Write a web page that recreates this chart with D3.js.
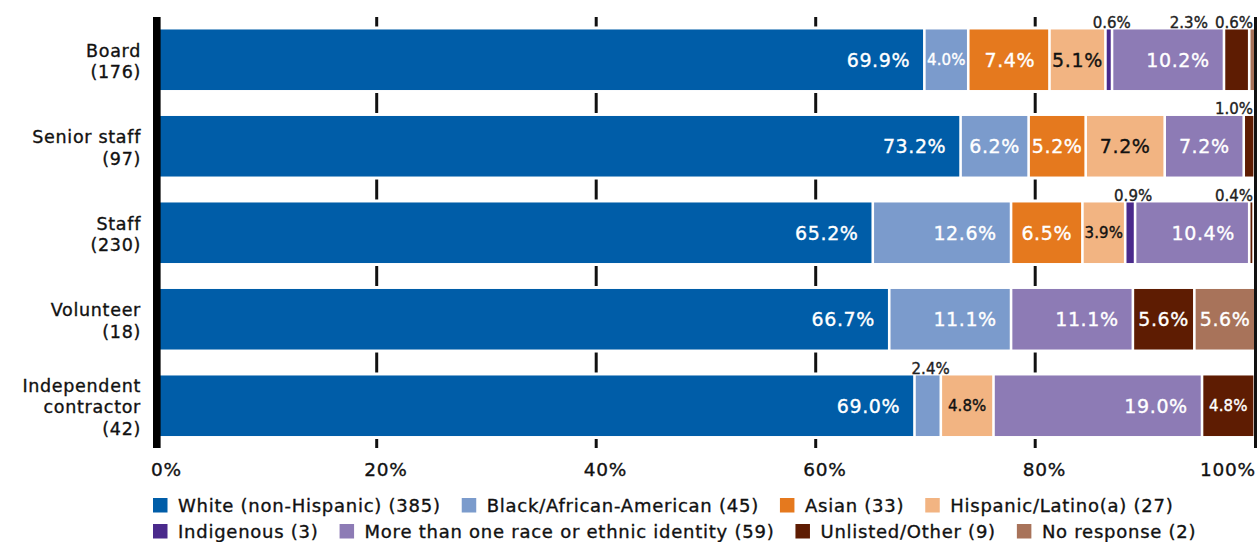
<!DOCTYPE html>
<html>
<head>
<meta charset="utf-8">
<script src="https://cdn.jsdelivr.net/npm/d3@7"></script>
<style>
  html, body { margin: 0; padding: 0; background: #fff; }
  svg { display: block; }
  text { font-family: "DejaVu Sans", sans-serif; stroke-width: 0.35px; paint-order: stroke; }
</style>
</head>
<body>
<svg id="chart" width="1257" height="542"></svg>
<script>
// Roles (bars) and respondent counts
const roles = ["Board", "Senior staff", "Staff", "Volunteer", "Independent contractor"];
const roleCounts = [176, 97, 230, 18, 42];

// Race / ethnicity groups (stack order) and overall counts
const groups = ["White (non-Hispanic)", "Black/African-American", "Asian", "Hispanic/Latino(a)",
                "Indigenous", "More than one race or ethnic identity", "Unlisted/Other", "No response"];
const groupTotals = [385, 45, 33, 27, 3, 59, 9, 2];

// Percent of each role, one array per group (same order as roles)
const white      = [69.9, 73.2, 65.2, 66.7, 69.0];
const black      = [4.0, 6.2, 12.6, 11.1, 2.4];
const asian      = [7.4, 5.2, 6.5, 0, 0];
const hispanic   = [5.1, 7.2, 3.9, 0, 4.8];
const indigenous = [0.6, 0, 0.9, 0, 0];
const multiple   = [10.2, 7.2, 10.4, 11.1, 19.0];
const unlisted   = [2.3, 1.0, 0.4, 5.6, 4.8];
const noResponse = [0.6, 0, 0, 5.6, 0];

const tickValues = [0, 20, 40, 60, 80, 100];
const gridValues = [20, 40, 60, 80];

const colors = ["#005DA8", "#7B9BCC", "#E5791E", "#F2B482", "#4A2A8C", "#8D7BB5", "#5E1C02", "#A8735A"];
const darkText = [false, false, false, true, false, false, false, false];

const series = [white, black, asian, hispanic, indigenous, multiple, unlisted, noResponse];

const svg = d3.select("#chart");

const rows = roles.map((r, i) => {
  const o = { role: r, count: roleCounts[i] };
  groups.forEach((g, k) => { o[g] = series[k][i]; });
  return o;
});
const stacked = d3.stack().keys(groups)(rows);

const x = d3.scaleLinear().domain([0, 100]).range([157.2, 1254.7]);
const y = d3.scaleBand().domain(roles).range([16.5, 449]).paddingInner(0.3).paddingOuter(0.15);

const segGap = 2.6;
const bigFont = 19, smallFont = 15, aboveFont = 15;

// Gridline pieces between bars
const gridG = svg.append("g");
const bw = y.bandwidth();
const gaps = [];
roles.forEach((r, i) => {
  const top = y(r);
  const prevBottom = i === 0 ? 17 - 3 : y(roles[i - 1]) + bw;
  gaps.push([prevBottom + 3, top - 3]);
});
gaps.push([y(roles[roles.length - 1]) + bw + 3, 448]);
gridValues.forEach(v => {
  gaps.forEach(([a, b]) => {
    gridG.append("line")
      .attr("x1", x(v)).attr("x2", x(v))
      .attr("y1", a).attr("y2", b)
      .attr("stroke", "#111").attr("stroke-width", 3);
  });
});

// Stacked bar segments
const barG = svg.append("g");
stacked.forEach((layer, k) => {
  barG.selectAll(null)
    .data(layer.filter(d => d[1] - d[0] > 0))
    .join("rect")
    .attr("x", d => x(d[0]) + segGap / 2)
    .attr("width", d => Math.max(0.5, x(d[1]) - x(d[0]) - segGap))
    .attr("y", d => y(d.data.role))
    .attr("height", bw)
    .attr("fill", colors[k]);
});

// 100% line and left axis
svg.append("line")
  .attr("x1", x(100) + 0.8).attr("x2", x(100) + 0.8)
  .attr("y1", 17).attr("y2", 448)
  .attr("stroke", "#111").attr("stroke-width", 3);
svg.append("rect")
  .attr("x", 153).attr("y", 17).attr("width", 7.6).attr("height", 431)
  .attr("fill", "#000");

// Text measuring helper
const measurer = svg.append("text").attr("x", -1000).attr("y", -1000);
function textWidth(str, size, ls) {
  measurer.attr("font-size", size).attr("letter-spacing", ls).text(str);
  return measurer.node().getComputedTextLength();
}

// Value labels
const labelG = svg.append("g");
const fmt = v => v.toFixed(1) + "%";
roles.forEach((r, i) => {
  const top = y(r);
  const cy = top + bw / 2;
  const above = [];
  stacked.forEach((layer, k) => {
    const d = layer[i];
    const v = d[1] - d[0];
    if (v <= 0) return;
    const label = fmt(series[k][i]);
    const segW = x(d[1]) - x(d[0]) - segGap;
    const right = x(d[1]) - segGap / 2;
    const fill = darkText[k] ? "#111" : "#fff";
    const wBig = textWidth(label, bigFont, 0.6);
    const wSmall = textWidth(label, smallFont, 0.1);
    if (wBig + 2 <= segW) {
      const pad = Math.min(13, (segW - wBig) / 2);
      labelG.append("text")
        .attr("x", right - pad).attr("y", cy + bigFont * 0.37)
        .attr("text-anchor", "end")
        .attr("font-size", bigFont).attr("letter-spacing", 0.6)
        .attr("fill", fill).attr("stroke", fill).text(label);
    } else if (wSmall + 1 <= segW) {
      labelG.append("text")
        .attr("x", (x(d[0]) + x(d[1])) / 2 - wSmall / 2).attr("y", cy + smallFont * 0.37)
        .attr("font-size", smallFont).attr("letter-spacing", 0.1)
        .attr("fill", fill).attr("stroke", fill).text(label);
    } else {
      above.push({ label, cx: (x(d[0]) + x(d[1])) / 2, w: textWidth(label, aboveFont, 0) });
    }
  });
  // labels placed over the bar, pushed left so they stay inside and do not collide
  let limit = 1253;
  above.sort((a, b) => b.cx - a.cx).forEach(a => {
    const rightEdge = Math.min(a.cx + a.w / 2 + 3, limit);
    labelG.append("text")
      .attr("x", rightEdge).attr("y", top - 1.5)
      .attr("text-anchor", "end")
      .attr("font-size", aboveFont)
      .attr("fill", "#222").attr("stroke", "#222").text(a.label);
    limit = rightEdge - a.w - 7;
  });
});

// Category labels (wrapped)
const catG = svg.append("g");
const catFont = 17.5, catLs = 0.7, catLine = 21.5;
roles.forEach((r, i) => {
  const words = r.split(" ");
  const lines = [];
  let cur = "";
  words.forEach(wd => {
    const t = cur ? cur + " " + wd : wd;
    if (cur && textWidth(t, catFont, catLs) > 125) { lines.push(cur); cur = wd; }
    else cur = t;
  });
  lines.push(cur);
  lines.push("(" + roleCounts[i] + ")");
  const cy = y(r) + bw / 2;
  const n = lines.length;
  lines.forEach((ln, j) => {
    catG.append("text")
      .attr("x", 141).attr("y", cy + (j - (n - 1) / 2) * catLine + 7.5)
      .attr("text-anchor", "end")
      .attr("font-size", catFont).attr("letter-spacing", catLs)
      .attr("fill", "#111").attr("stroke", "#111").text(ln);
  });
});

// Axis tick labels (number centred on its tick)
const tickFont = 18.5, tickLs = 0.8;
tickValues.forEach(t => {
  const numW = textWidth(String(t), tickFont, tickLs);
  const fullW = textWidth(t + "%", tickFont, tickLs);
  let left = x(t) - numW / 2;
  if (left + fullW > 1256) left = 1256 - fullW;
  svg.append("text")
    .attr("x", left).attr("y", 476)
    .attr("font-size", tickFont).attr("letter-spacing", tickLs)
    .attr("fill", "#111").attr("stroke", "#111").text(t + "%");
});

// Legend, four entries per row
const legFont = 18, legLs = 0.75;
const perRow = 4;
const legG = svg.append("g");
for (let r = 0; r * perRow < groups.length; r++) {
  let cx = 153;
  const base = 512 + r * 26;
  for (let k = r * perRow; k < Math.min(groups.length, (r + 1) * perRow); k++) {
    const label = groups[k] + " (" + groupTotals[k] + ")";
    legG.append("rect")
      .attr("x", cx).attr("y", base - 14).attr("width", 14.5).attr("height", 14.5)
      .attr("fill", colors[k]);
    legG.append("text")
      .attr("x", cx + 25).attr("y", base)
      .attr("font-size", legFont).attr("letter-spacing", legLs)
      .attr("fill", "#111").attr("stroke", "#111").text(label);
    cx += 25 + textWidth(label, legFont, legLs) + 21;
  }
}
measurer.remove();
</script>
</body>
</html>
